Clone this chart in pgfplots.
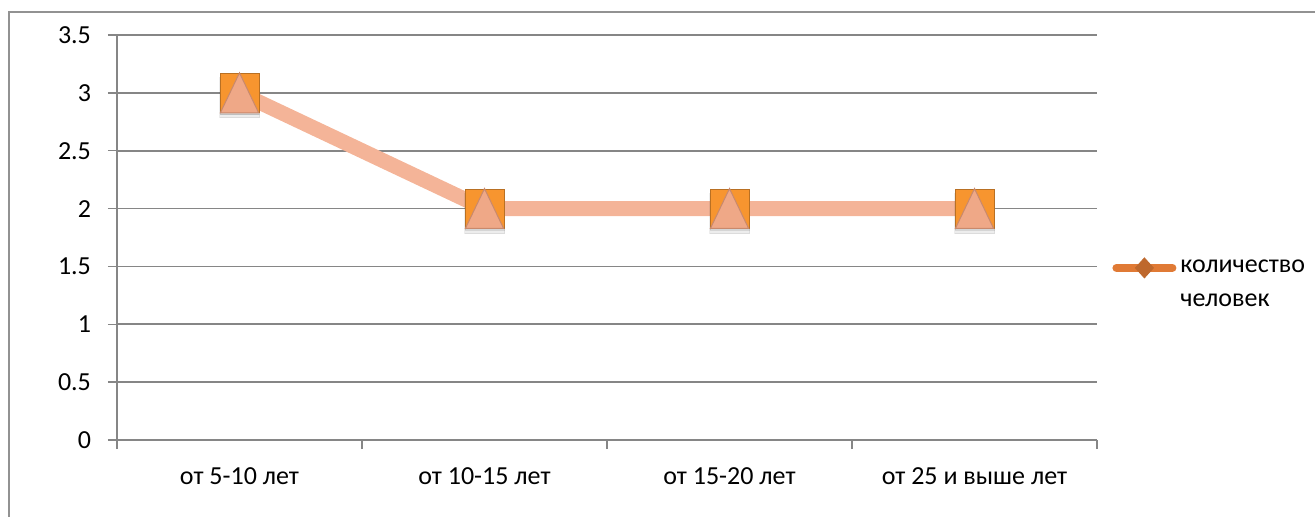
\documentclass[border=0pt]{standalone}
\usepackage{pgfplots}
\pgfplotsset{compat=1.18}
\usepackage{fontspec}
\setmainfont{Carlito}
\definecolor{gridgray}{HTML}{868686}
\definecolor{lineSalmon}{HTML}{F4B498}
\definecolor{sqOrange}{HTML}{F7952F}
\definecolor{triFill}{HTML}{EFA887}
\definecolor{triDraw}{HTML}{C9896C}
\definecolor{legOrange}{HTML}{E07A35}
\begin{document}
\begin{tikzpicture}[x=1pt,y=1pt]
\useasboundingbox (0,0) rectangle (657.5,258);
\draw[gridgray!90, line width=0.75pt] (4.5,-1) -- (4.5,252) -- (660,252);
\begin{axis}[
  at={(58.5pt,38pt)}, anchor=south west,
  width=490pt, height=202.5pt, scale only axis,
  xmin=-0.5, xmax=3.5, ymin=0, ymax=3.5,
  axis lines*=left,
  axis line style={gridgray, line width=0.75pt},
  ytick={0,0.5,1,1.5,2,2.5,3,3.5},
  ymajorgrids, grid style={gridgray, line width=0.9pt},
  xtick={-0.5,0.5,1.5,2.5,3.5}, xticklabels={},
  extra x ticks={0,1,2,3},
  extra x tick labels={от 5-10 лет, от 10-15 лет, от 15-20 лет, от 25 и выше лет},
  extra x tick style={major tick length=0pt, grid=none, xticklabel style={yshift=-10.5pt}},
  tick align=outside, major tick length=4.5pt,
  tick style={gridgray, line width=0.75pt},
  ticklabel style={font=\fontsize{13}{15}\selectfont, text=black},
  yticklabel style={xshift=-5pt},
  /pgf/number format/assume math mode=true,
  legend style={at={(1,0.383)}, anchor=west, xshift=4.5pt, draw=none, fill=none,
    font=\fontsize{13}{17}\selectfont, cells={align=left}},
]
\addplot[only marks, mark=square*, mark size=10pt, forget plot,
  mark options={fill=black, draw=none, opacity=0.07, yshift=-2.5pt}]
  coordinates {(0,3) (1,2) (2,2) (3,2)};
\addplot[only marks, mark=square*, mark size=9.75pt, forget plot,
  mark options={fill=black, draw=none, opacity=0.10, yshift=-1.2pt}]
  coordinates {(0,3) (1,2) (2,2) (3,2)};
\addplot[only marks, mark=square*, mark size=9.75pt, forget plot,
  mark options={fill=sqOrange, draw=sqOrange!75!black, line width=0.4pt}]
  coordinates {(0,3) (1,2) (2,2) (3,2)};
\addplot[lineSalmon, line width=7.5pt, no markers, forget plot]
  coordinates {(0,3) (1,2) (2,2) (3,2)};
\addplot[only marks, mark=triangle*, mark size=13.3pt, forget plot,
  mark options={fill=triFill, draw=triDraw, line width=0.5pt, xscale=0.83, yshift=-3.3pt}]
  coordinates {(0,3) (1,2) (2,2) (3,2)};
\addlegendimage{legend image code/.code={
  \path[draw=none, fill=none] (-2pt,-14pt) rectangle (28pt,14pt);
  \draw[legOrange, line width=4pt, line cap=round] (0pt,8.5pt) -- (28pt,8.5pt);
  \fill[legOrange!85!black] (14pt,13.5pt) -- (18.5pt,8.5pt) -- (14pt,3.5pt) -- (9.5pt,8.5pt) -- cycle;
}}
\addlegendentry{количество\\человек}
\end{axis}
\end{tikzpicture}
\end{document}
